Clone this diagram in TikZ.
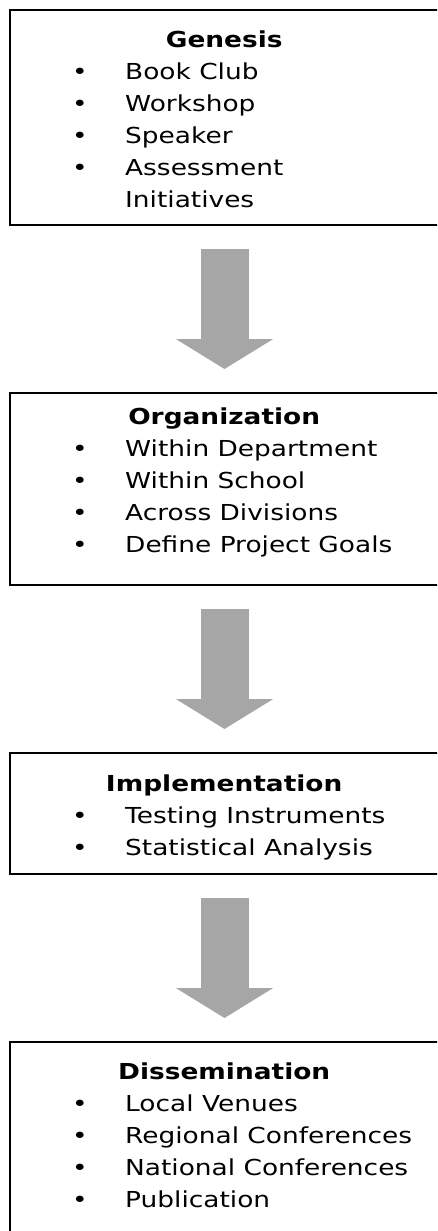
\documentclass[tikz,border=0pt]{standalone}
\usepackage{fontspec}
\setmainfont[FakeStretch=1.2]{DejaVu Sans}
\usetikzlibrary{arrows.meta,positioning}
\usepackage{xcolor}
\definecolor{arrowgray}{RGB}{166,166,166}
\newcommand{\stagetitle}[1]{\makebox[304pt][c]{\textbf{#1}}}
\newcommand{\stageitem}[1]{\makebox[53pt][l]{\textbullet}#1}
\newcommand{\stagecont}[1]{\makebox[53pt]{}#1}

\begin{document}
\begin{tikzpicture}[
    x=1pt, y=-1pt,
    node distance=168pt,
    stagebox/.style={draw, line width=1.5pt, minimum width=429pt, inner sep=0pt, outer sep=0pt},
    stagetext/.style={anchor=north west, align=left, inner sep=0pt, outer sep=0pt, font=\fontsize{22pt}{32pt}\selectfont},
    flowarrow/.style={draw=arrowgray, line width=48pt, -{Triangle[length=30pt,width=96pt]}, shorten <=24pt, shorten >=24pt}
]
\path[use as bounding box, clip] (0,0) rectangle (437,1231);

% stage boxes
\node[stagebox, minimum height=215pt] (genesis) at (224.5,117.5) {};
\node[stagebox, minimum height=192pt, below=of genesis] (organization) {};
\node[stagebox, minimum height=121pt, below=of organization] (implementation) {};
\node[stagebox, minimum height=208pt, below=of implementation] (dissemination) {};

% box contents
\node[stagetext, below right=20.3pt and 62.2pt of genesis.north west] (genesis-list)
    {\stagetitle{Genesis}\\
     \stageitem{Book Club}\\
     \stageitem{Workshop}\\
     \stageitem{Speaker}\\
     \stageitem{Assessment}\\
     \stagecont{Initiatives}};
\node[stagetext, below right=14.3pt and 62.2pt of organization.north west] (organization-list)
    {\stagetitle{Organization}\\
     \stageitem{Within Department}\\
     \stageitem{Within School}\\
     \stageitem{Across Divisions}\\
     \stageitem{Define Project Goals}};
\node[stagetext, below right=21.3pt and 62.2pt of implementation.north west] (implementation-list)
    {\stagetitle{Implementation}\\
     \stageitem{Testing Instruments}\\
     \stageitem{Statistical Analysis}};
\node[stagetext, below right=20.3pt and 62.2pt of dissemination.north west] (dissemination-list)
    {\stagetitle{Dissemination}\\
     \stageitem{Local Venues}\\
     \stageitem{Regional Conferences}\\
     \stageitem{National Conferences}\\
     \stageitem{Publication}};

% flow arrows
\draw[flowarrow] (genesis) -- (organization);
\draw[flowarrow] (organization) -- (implementation);
\draw[flowarrow] (implementation) -- (dissemination);
\end{tikzpicture}
\end{document}
